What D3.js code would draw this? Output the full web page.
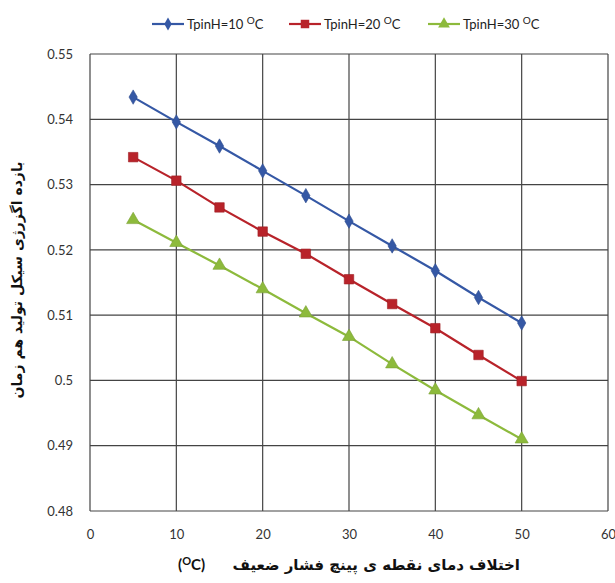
<!DOCTYPE html>
<html><head><meta charset="utf-8">
<script src="https://cdn.jsdelivr.net/npm/d3@7"></script>
<style>body{margin:0;background:#fff}svg{display:block}</style>
</head><body>
<svg id="c" width="615" height="583"></svg>
<script>
const xValues = [5,10,15,20,25,30,35,40,45,50];
const series10 = [0.5434,0.5396,0.5359,0.5321,0.5283,0.5244,0.5206,0.5168,0.5127,0.5088];
const series20 = [0.5342,0.5306,0.5265,0.5228,0.5194,0.5155,0.5117,0.5080,0.5039,0.4999];
const series30 = [0.5246,0.5211,0.5176,0.5140,0.5103,0.5067,0.5025,0.4985,0.4947,0.4910];
const seriesNames = ["TpinH=10","TpinH=20","TpinH=30"];
const xTicks = [0,10,20,30,40,50,60];
const yTicks = [0.48,0.49,0.50,0.51,0.52,0.53,0.54,0.55];
const yTitle = "بازده اگزرژی سیکل تولید هم زمان";
const xTitle = "اختلاف دمای نقطه ی پینچ فشار ضعیف";

const svg = d3.select("#c");
const L=90,R=608,T=54,B=511;
const x = d3.scaleLinear().domain([0,60]).range([L,R]);
const y = d3.scaleLinear().domain([0.48,0.55]).range([B,T]);
const font = "Lato, 'Open Sans', sans-serif";

// grid
svg.append("g").selectAll("line").data(xTicks).join("line")
  .attr("x1",d=>x(d)).attr("x2",d=>x(d)).attr("y1",T).attr("y2",B)
  .attr("stroke","#444").attr("stroke-width",1.2);
svg.append("g").selectAll("line").data(yTicks).join("line")
  .attr("x1",L).attr("x2",R).attr("y1",d=>y(d)).attr("y2",d=>y(d))
  .attr("stroke","#444").attr("stroke-width",1.2);

// axes labels via d3 axes
const xa = svg.append("g").attr("transform",`translate(0,${B})`)
  .call(d3.axisBottom(x).tickValues(xTicks).tickSize(0).tickPadding(19));
const ya = svg.append("g").attr("transform",`translate(${L},0)`)
  .call(d3.axisLeft(y).tickValues(yTicks).tickSize(0).tickPadding(17).tickFormat(d=>String(+d.toFixed(2))));
[xa,ya].forEach(a=>{a.select(".domain").remove();
  a.selectAll("text").attr("font-family",font).attr("font-size",13).attr("fill","#333");});

const colors = ["#3558a5","#b8232a","#8dba3c"];
const data = [series10,series20,series30];
const line = d3.line().x((d,i)=>x(xValues[i])).y(d=>y(d));
const sym = [d3.symbolDiamond, d3.symbolSquare, d3.symbolTriangle];
const symSize = [60,90,75];

data.forEach((s,k)=>{
  svg.append("path").datum(s).attr("d",line).attr("fill","none")
    .attr("stroke",colors[k]).attr("stroke-width",2.2);
  svg.append("g").selectAll("path").data(s).join("path")
    .attr("transform",(d,i)=>`translate(${x(xValues[i])},${y(d)})`)
    .attr("d",d3.symbol(sym[k],symSize[k])).attr("fill",colors[k])
    .attr("stroke",d3.color(colors[k]).darker(0.4)).attr("stroke-width",0.6);
});

// legend
const legX = [152,289,428];
seriesNames.forEach((n,k)=>{
  const g = svg.append("g").attr("transform",`translate(${legX[k]},24)`);
  g.append("line").attr("x1",0).attr("x2",32).attr("stroke",colors[k]).attr("stroke-width",2.2);
  g.append("path").attr("transform","translate(16,0)").attr("d",d3.symbol(sym[k],symSize[k]*0.8)).attr("fill",colors[k]);
  const t = g.append("text").attr("x",35).attr("y",4.5).attr("font-family",font).attr("font-size",13).attr("fill","#222");
  t.append("tspan").text(n+" ");
  t.append("tspan").attr("font-size",10).attr("dy",-5).text("O");
  t.append("tspan").attr("dy",5).text("C");
});

// y title
svg.append("text").attr("transform","translate(22,280) rotate(-90)")
  .attr("text-anchor","middle").attr("font-family","'DejaVu Sans', sans-serif")
  .attr("font-weight","bold").attr("font-size",14).attr("fill","#111")
  .text(yTitle);

// x title
svg.append("text").attr("x",520).attr("y",570).attr("text-anchor","end")
  .attr("font-family","'DejaVu Sans', sans-serif").attr("font-weight","bold")
  .attr("font-size",15).attr("fill","#111").text(xTitle);
const u = svg.append("text").attr("x",178).attr("y",570).attr("font-family",font)
  .attr("font-weight","bold").attr("font-size",15).attr("fill","#111");
u.append("tspan").text("(");
u.append("tspan").attr("font-size",11).attr("dy",-5).text("O");
u.append("tspan").attr("dy",5).text("C)");
</script>
</body></html>
